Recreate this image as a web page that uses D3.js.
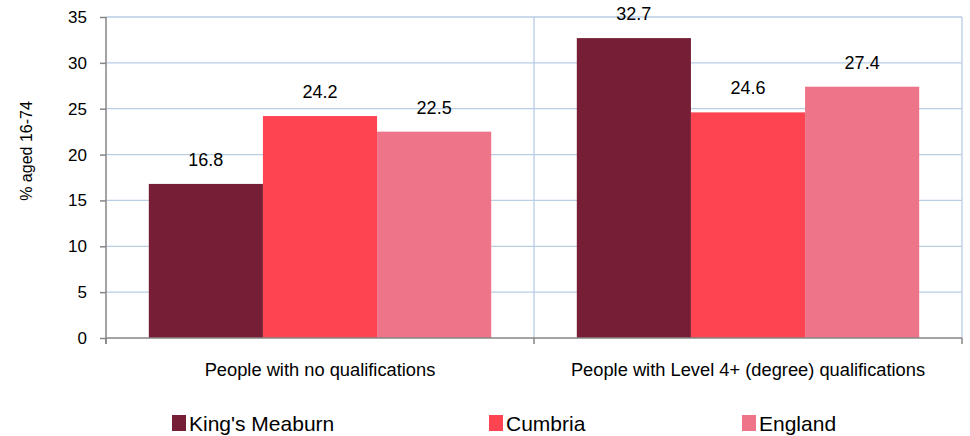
<!DOCTYPE html>
<html>
<head>
<meta charset="utf-8">
<script src="https://cdn.jsdelivr.net/npm/d3@7"></script>
<style>
  body { margin: 0; background: #fff; }
  text { font-family: "Liberation Sans", Arial, sans-serif; fill: #000; }
</style>
</head>
<body>
<div id="chart"></div>
<script>
  const categories = ["People with no qualifications", "People with Level 4+ (degree)  qualifications"];
  const seriesNames = ["King's Meaburn", "Cumbria", "England"];
  const seriesColors = ["#761e35", "#fe4450", "#ed7489"];
  const kingsMeaburn = [16.8, 32.7];
  const cumbria = [24.2, 24.6];
  const england = [22.5, 27.4];
  const yTicks = [0, 5, 10, 15, 20, 25, 30, 35];

  const seriesValues = [kingsMeaburn, cumbria, england];

  const width = 970, height = 436;
  const plotLeft = 106, plotRight = 962, plotTop = 17, plotBottom = 338;

  const svg = d3.select("#chart").append("svg")
    .attr("width", width)
    .attr("height", height);

  const x = d3.scaleBand().domain(categories).range([plotLeft, plotRight]);
  const inner = d3.scaleBand().domain(seriesNames)
    .range([0, x.bandwidth()])
    .paddingOuter(0.375);
  const y = d3.scaleLinear().domain([0, 35]).range([plotBottom, plotTop]);

  // gridlines
  svg.append("g").selectAll("line")
    .data(yTicks.filter(d => d > 0))
    .enter().append("line")
    .attr("x1", plotLeft).attr("x2", plotRight)
    .attr("y1", d => y(d)).attr("y2", d => y(d))
    .attr("stroke", "#b9cde5").attr("stroke-width", 1.3);

  // vertical gridlines at category boundaries
  svg.append("g").selectAll("line")
    .data(categories)
    .enter().append("line")
    .attr("x1", d => x(d) + x.bandwidth()).attr("x2", d => x(d) + x.bandwidth())
    .attr("y1", plotTop).attr("y2", plotBottom)
    .attr("stroke", "#b9cde5").attr("stroke-width", 1.3);

  // bars
  seriesNames.forEach((name, si) => {
    svg.append("g").selectAll("rect")
      .data(categories)
      .enter().append("rect")
      .attr("x", d => x(d) + inner(name))
      .attr("width", inner.bandwidth())
      .attr("y", (d, i) => y(seriesValues[si][i]))
      .attr("height", (d, i) => plotBottom - y(seriesValues[si][i]))
      .attr("fill", seriesColors[si]);

    svg.append("g").selectAll("text")
      .data(categories)
      .enter().append("text")
      .attr("x", d => x(d) + inner(name) + inner.bandwidth() / 2)
      .attr("y", (d, i) => y(seriesValues[si][i]) - 18)
      .attr("text-anchor", "middle")
      .style("font-size", "18px")
      .text((d, i) => seriesValues[si][i].toFixed(1));
  });

  // y axis
  const yAxis = svg.append("g")
    .attr("transform", `translate(${plotLeft},0)`)
    .call(d3.axisLeft(y).tickValues(yTicks).tickSize(6).tickPadding(13));
  yAxis.select(".domain").attr("stroke", "#868686").attr("stroke-width", 1.5)
    .attr("d", `M0,${plotTop}V${plotBottom + 6}`);
  yAxis.selectAll(".tick line").attr("stroke", "#868686").attr("stroke-width", 1.5);
  yAxis.selectAll(".tick text").style("font-size", "17px")
    .style("font-family", "'Liberation Sans', Arial, sans-serif").attr("fill", "#000");

  // x axis
  const xAxis = svg.append("g").attr("transform", `translate(0,${plotBottom})`);
  xAxis.append("line")
    .attr("x1", plotLeft).attr("x2", plotRight)
    .attr("stroke", "#868686").attr("stroke-width", 1.5);
  xAxis.selectAll(".xt")
    .data([plotLeft].concat(categories.map(d => x(d) + x.bandwidth())))
    .enter().append("line")
    .attr("x1", d => d).attr("x2", d => d)
    .attr("y1", 0).attr("y2", 6)
    .attr("stroke", "#868686").attr("stroke-width", 1.5);
  xAxis.selectAll("text")
    .data(categories)
    .enter().append("text")
    .attr("x", d => x(d) + x.bandwidth() / 2)
    .attr("y", 38)
    .attr("text-anchor", "middle")
    .style("font-size", "18.3px")
    .text(d => d);

  // y title
  svg.append("text")
    .attr("transform", `translate(32,151) rotate(-90)`)
    .attr("text-anchor", "middle")
    .style("font-size", "16px")
    .text("% aged  16-74");

  // legend
  const legendX = [172, 489, 742];
  const legend = svg.append("g").selectAll("g")
    .data(seriesNames)
    .enter().append("g")
    .attr("transform", (d, i) => `translate(${legendX[i]},415)`);
  legend.append("rect")
    .attr("width", 14).attr("height", 16)
    .attr("fill", (d, i) => seriesColors[i]);
  legend.append("text")
    .attr("x", 17).attr("y", 16)
    .style("font-size", "21px")
    .text(d => d);
</script>
</body>
</html>
